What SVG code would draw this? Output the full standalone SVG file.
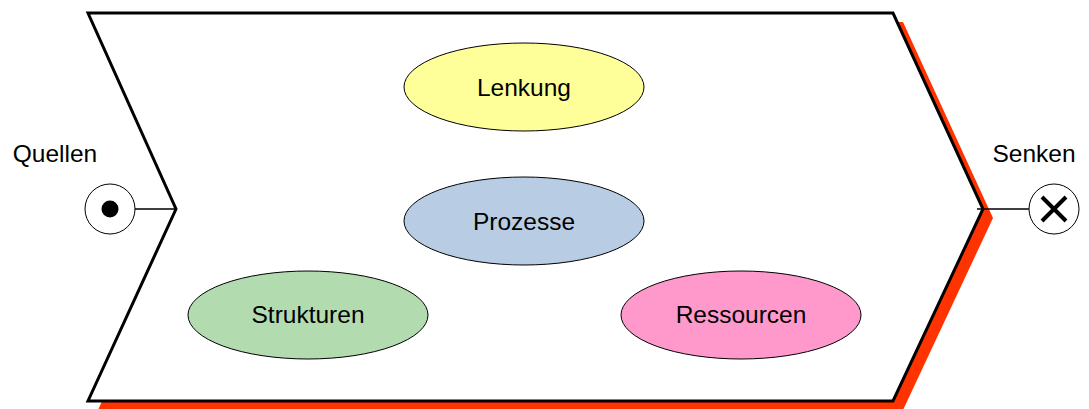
<svg xmlns="http://www.w3.org/2000/svg" width="1089" height="409" viewBox="0 0 1089 409">
<style>
text{font-family:"Liberation Sans",Arial,sans-serif;font-size:24.5px;fill:#000;text-anchor:middle}
.ell{stroke:#000;stroke-width:1}
.term{fill:#fff;stroke:#000;stroke-width:1}
</style>
<rect width="1089" height="409" fill="#fff"/>
<g id="process">
<polygon points="98,22 903,22 993,218 903,410 98,410 186,218" fill="#ff3300"/>
<polygon points="88,13 893,13 983,209 893,401 88,401 176,209" fill="#fff" stroke="#000" stroke-width="3" stroke-linejoin="miter"/>
</g>
<g id="connectors">
<line x1="135" y1="209" x2="176" y2="209" stroke="#000" stroke-width="1.5"/>
<line x1="977" y1="209" x2="1029" y2="209" stroke="#000" stroke-width="1.5"/>
</g>
<g id="quellen">
<circle class="term" cx="110" cy="209" r="25"/>
<circle cx="110" cy="209" r="8.5" fill="#000"/>
<text x="55" y="162">Quellen</text>
</g>
<g id="senken">
<circle class="term" cx="1054" cy="209" r="25"/>
<path d="M1042,197 L1066,221 M1066,197 L1042,221" stroke="#000" stroke-width="4"/>
<text x="1034" y="162">Senken</text>
</g>
<g id="lenkung">
<ellipse class="ell" cx="524" cy="87" rx="120" ry="44" fill="#ffff99"/>
<text x="524" y="96">Lenkung</text>
</g>
<g id="prozesse">
<ellipse class="ell" cx="524" cy="221" rx="120" ry="44" fill="#b8cce4"/>
<text x="524" y="230">Prozesse</text>
</g>
<g id="strukturen">
<ellipse class="ell" cx="308" cy="315" rx="120" ry="44" fill="#b3dbb0"/>
<text x="308" y="323">Strukturen</text>
</g>
<g id="ressourcen">
<ellipse class="ell" cx="741" cy="315" rx="120" ry="44" fill="#ff99cc"/>
<text x="741" y="323">Ressourcen</text>
</g>
</svg>
